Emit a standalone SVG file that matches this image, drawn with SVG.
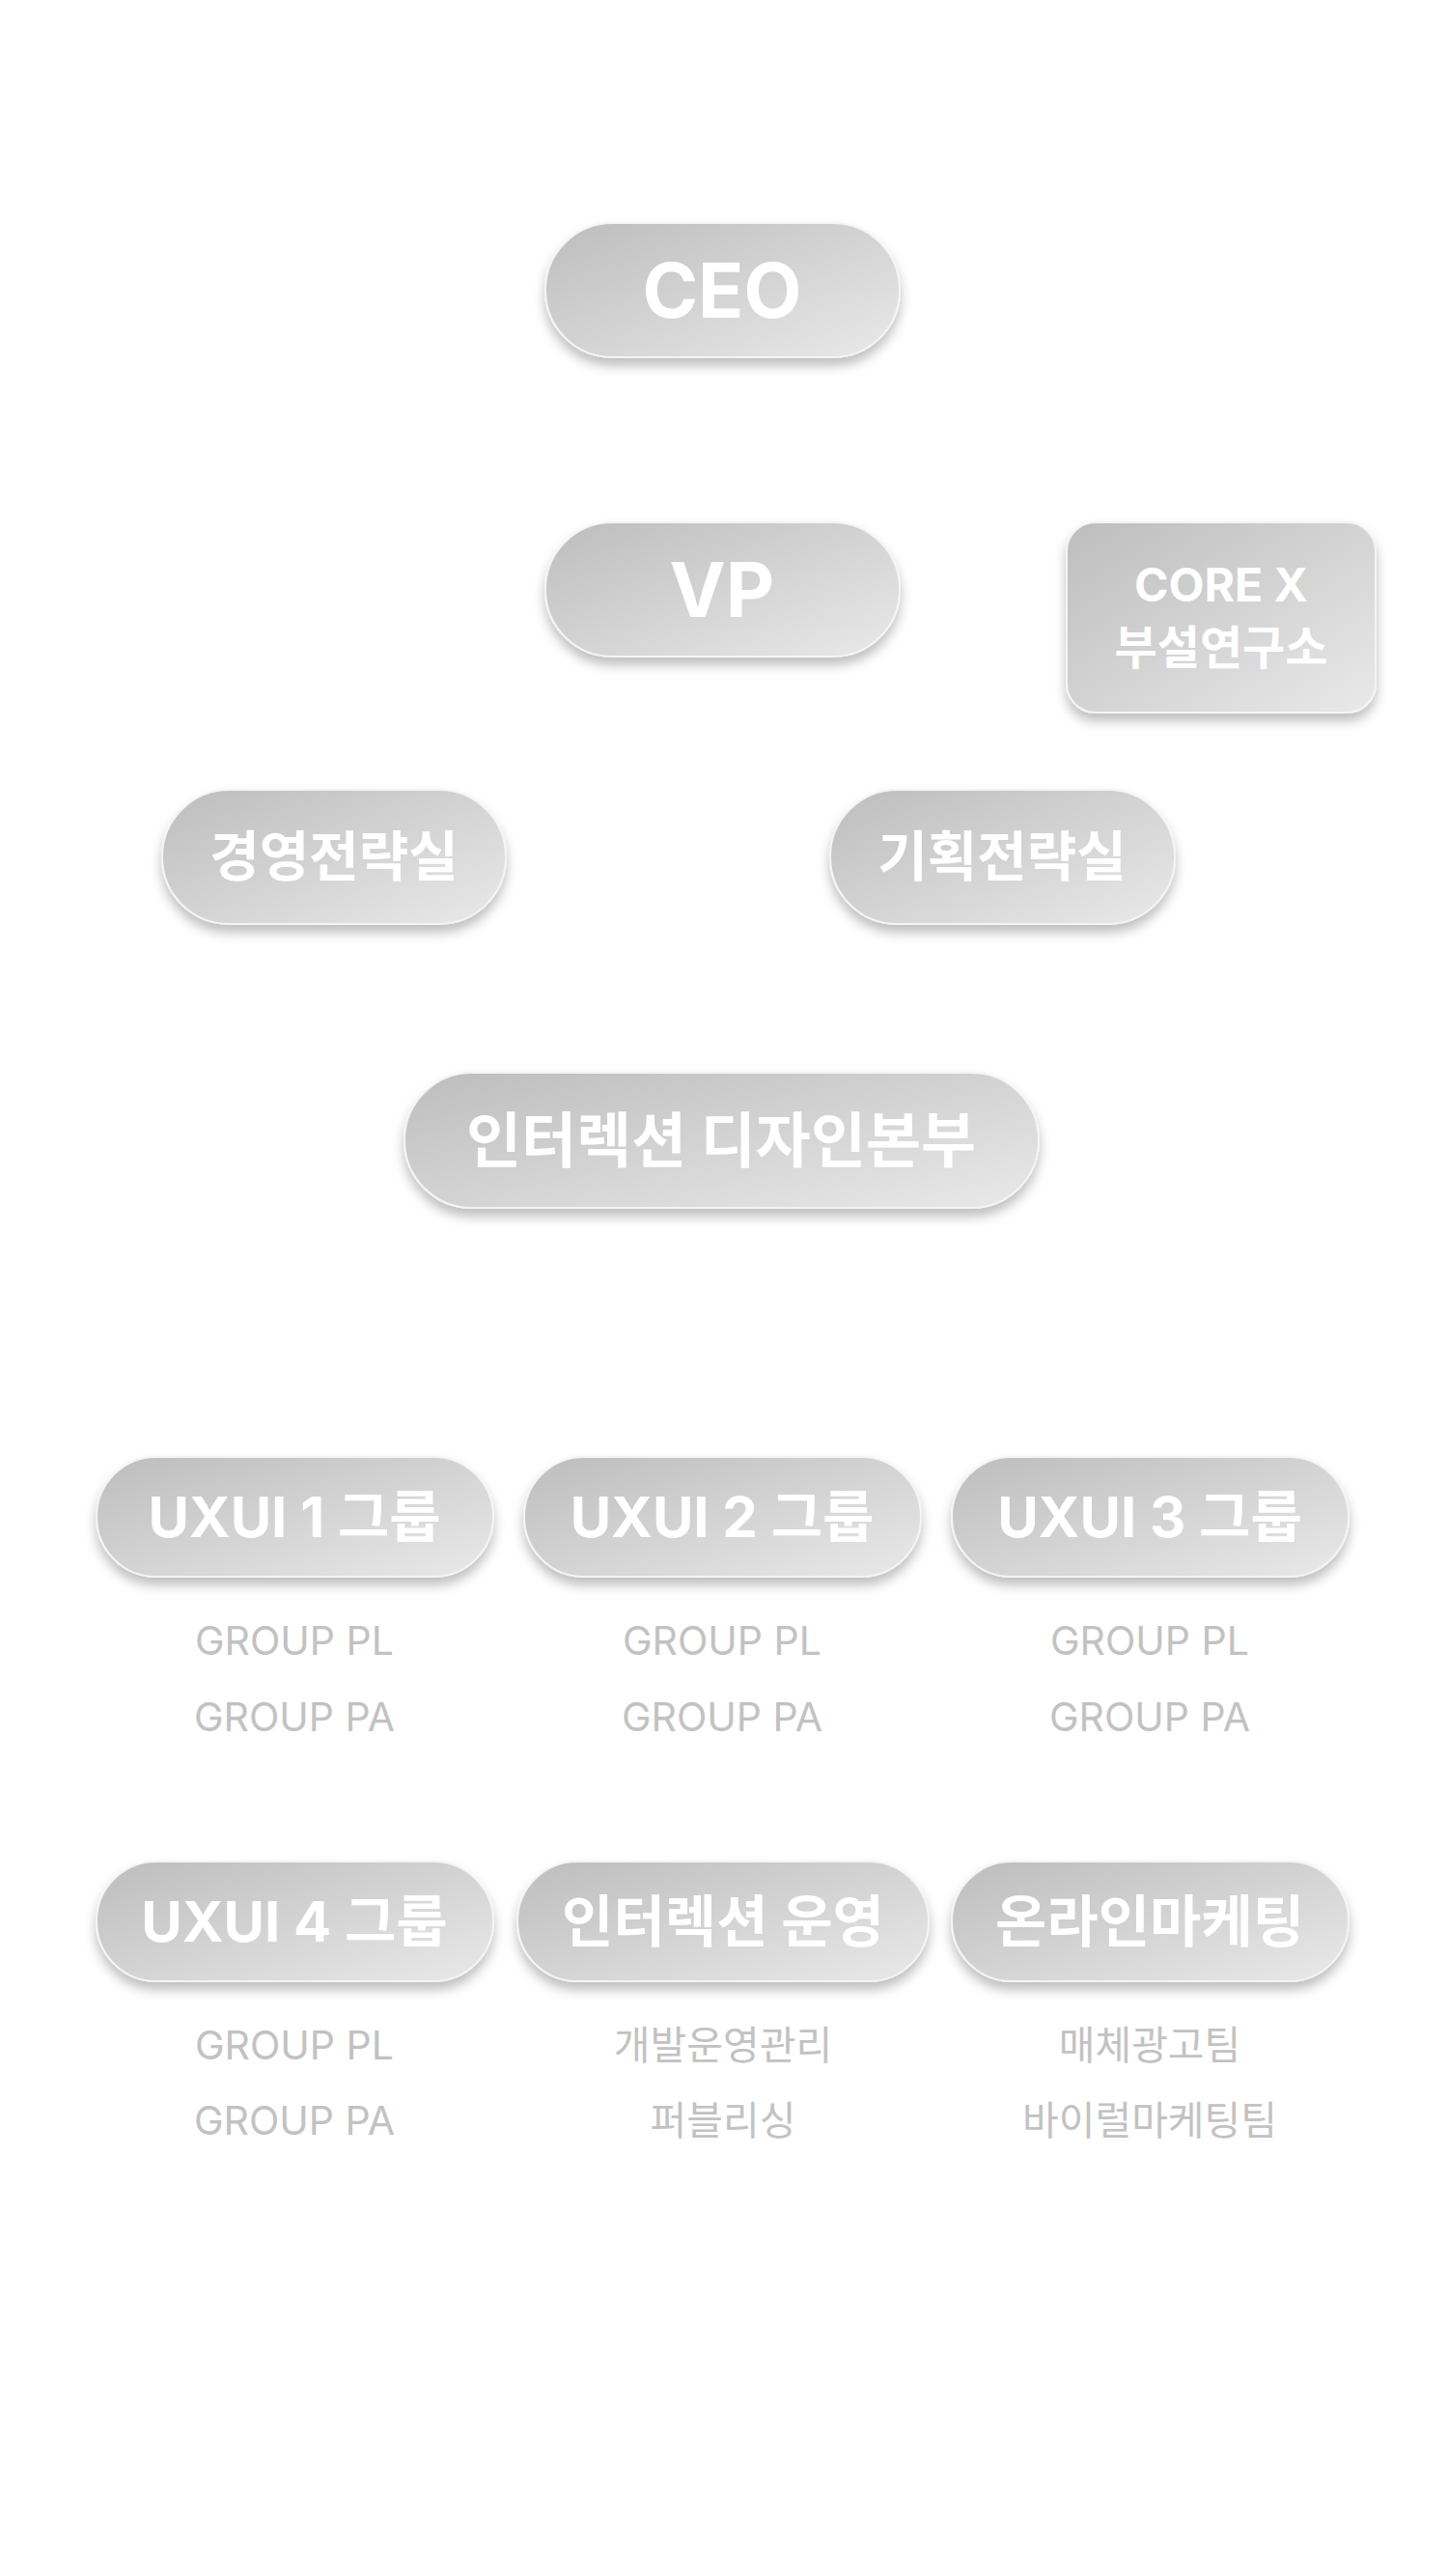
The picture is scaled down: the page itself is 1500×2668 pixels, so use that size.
<svg xmlns="http://www.w3.org/2000/svg" width="1500" height="2668" viewBox="0 0 1500 2668">
<defs>
<linearGradient id="g" x1="0" y1="0" x2="1" y2="1">
<stop offset="0" stop-color="#bdbdbd"/><stop offset="1" stop-color="#e9e9e9"/>
</linearGradient>
<filter id="sh" x="-20%" y="-30%" width="140%" height="170%">
<feDropShadow dx="0" dy="8" stdDeviation="6" flood-color="#000" flood-opacity="0.25"/>
</filter>
<style>
.n{fill:url(#g);filter:url(#sh);stroke:#f4f4f4;stroke-width:2}
.t{font-family:Inter,"Noto Sans CJK KR",sans-serif;font-weight:700;fill:#fff;text-anchor:middle;dominant-baseline:central}
.s{font-family:Inter,"Noto Sans CJK KR",sans-serif;font-size:41px;fill:#c2c2c2;text-anchor:middle;dominant-baseline:central}
</style>
</defs>
<rect width="1500" height="2668" fill="#fff"/>
<g id="connectors"/>
<g id="ceo"><rect class="n" x="565" y="231" width="367" height="139" rx="69.5"/><text class="t" x="748" y="300" font-size="78">CEO</text></g>
<g id="vp"><rect class="n" x="565" y="541" width="367" height="139" rx="69.5"/><text class="t" x="748" y="610" font-size="78">VP</text></g>
<g id="corex"><rect class="n" x="1105" y="541" width="320" height="197" rx="30"/><text class="t" x="1265" y="605" font-size="48">CORE X</text><text class="t" x="1265" y="670" font-size="48">부설연구소</text></g>
<g id="mgmt"><rect class="n" x="168" y="818" width="356" height="139" rx="69.5"/><text class="t" x="346" y="887" font-size="56">경영전략실</text></g>
<g id="plan"><rect class="n" x="860" y="818" width="357" height="139" rx="69.5"/><text class="t" x="1038" y="887" font-size="56">기획전략실</text></g>
<g id="hq"><rect class="n" x="419" y="1111" width="657" height="140" rx="70"/><text class="t" x="747" y="1181" font-size="62">인터렉션 디자인본부</text></g>
<g id="ux1"><rect class="n" x="100" y="1509" width="411" height="124" rx="62"/><text class="t" x="305" y="1571" font-size="58">UXUI 1 그룹</text><text class="s" x="305" y="1699">GROUP PL</text><text class="s" x="305" y="1778">GROUP PA</text></g>
<g id="ux2"><rect class="n" x="543" y="1509" width="411" height="124" rx="62"/><text class="t" x="748" y="1571" font-size="58">UXUI 2 그룹</text><text class="s" x="748" y="1699">GROUP PL</text><text class="s" x="748" y="1778">GROUP PA</text></g>
<g id="ux3"><rect class="n" x="986" y="1509" width="411" height="124" rx="62"/><text class="t" x="1191" y="1571" font-size="58">UXUI 3 그룹</text><text class="s" x="1191" y="1699">GROUP PL</text><text class="s" x="1191" y="1778">GROUP PA</text></g>
<g id="ux4"><rect class="n" x="100" y="1928" width="411" height="124" rx="62"/><text class="t" x="305" y="1990" font-size="58">UXUI 4 그룹</text><text class="s" x="305" y="2118">GROUP PL</text><text class="s" x="305" y="2196">GROUP PA</text></g>
<g id="ops"><rect class="n" x="536" y="1928" width="426" height="124" rx="62"/><text class="t" x="749" y="1990" font-size="58">인터렉션 운영</text><text class="s" x="749" y="2118">개발운영관리</text><text class="s" x="749" y="2196">퍼블리싱</text></g>
<g id="mkt"><rect class="n" x="986" y="1928" width="411" height="124" rx="62"/><text class="t" x="1191" y="1990" font-size="58">온라인마케팅</text><text class="s" x="1191" y="2118">매체광고팀</text><text class="s" x="1191" y="2196">바이럴마케팅팀</text></g>
</svg>
